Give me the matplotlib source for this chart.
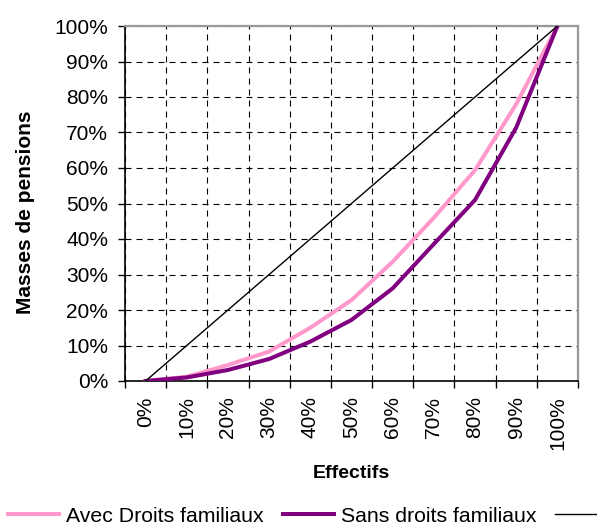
import matplotlib
matplotlib.use("Agg")
import matplotlib.pyplot as plt
from matplotlib.ticker import FixedLocator, FuncFormatter

plt.rcParams["font.family"] = ["Liberation Sans", "DejaVu Sans"]

# Cumulative shares (%) of pensions by cumulative share of retirees
effectifs = ["0%", "10%", "20%", "30%", "40%", "50%",
             "60%", "70%", "80%", "90%", "100%"]
avec_droits = [0, 1.2, 4.5, 8.3, 15.0, 22.8, 33.6, 46.0, 59.4, 78.0, 100]
sans_droits = [0, 1.0, 3.1, 6.2, 11.1, 17.2, 26.1, 38.6, 51.0, 71.4, 100]
egalite = [0, 10, 20, 30, 40, 50, 60, 70, 80, 90, 100]
y_ticks = [0, 10, 20, 30, 40, 50, 60, 70, 80, 90, 100]

PINK = "#ff99cc"
PURPLE = "#800080"
FS = 15

fig = plt.figure(figsize=(5.97, 5.24), dpi=100)
fig.patch.set_facecolor("white")
ax = fig.add_axes([125 / 597, 1 - 381 / 524, 453 / 597, 355 / 524])

x = list(range(len(effectifs)))
l1, = ax.plot(x, avec_droits, color=PINK, lw=2.9, zorder=3,
              solid_joinstyle="round")
l2, = ax.plot(x, sans_droits, color=PURPLE, lw=2.9, zorder=4,
              solid_joinstyle="round")
l3, = ax.plot(x, egalite, color="black", lw=1.0, zorder=5)

ax.set_xlim(-0.5, len(effectifs) - 0.5)
ax.set_ylim(0, 100)

# category axis: labels centred, tick marks and grid on the boundaries
ax.set_xticks(x)
ax.set_xticklabels(effectifs, rotation=90, fontsize=FS)
ax.xaxis.set_minor_locator(FixedLocator([i - 0.5 for i in range(len(effectifs) + 1)]))
ax.tick_params(axis="x", which="major", length=0, pad=11)
ax.tick_params(axis="x", which="minor", length=5, width=1, direction="out")

ax.set_yticks(y_ticks)
ax.yaxis.set_major_formatter(FuncFormatter(lambda v, _: f"{v:.0f}%"))
ax.tick_params(axis="y", length=5, width=1, direction="out", pad=7,
               labelsize=FS)

grid_style = dict(color="black", linewidth=0.8, linestyle=(0, (5.4, 4.5)))
ax.grid(False)
ax.xaxis.grid(True, which="minor", **grid_style)
ax.yaxis.grid(True, which="major", **grid_style)
ax.set_axisbelow(True)

for side in ("left", "bottom"):
    ax.spines[side].set_color("black")
    ax.spines[side].set_linewidth(1.2)
for side in ("top", "right"):
    ax.spines[side].set_color("#999999")
    ax.spines[side].set_linewidth(1.6)

ax.set_xlabel("Effectifs", fontsize=14, fontweight="bold", va="center")
ax.xaxis.set_label_coords(0.5, (381 - 474) / 355)
ax.set_ylabel("Masses de pensions", fontsize=15, fontweight="bold",
              va="center")
ax.yaxis.set_label_coords((25.5 - 125) / 453, (381 - 212) / 355)

fig.legend([l1, l2, l3], ["Avec Droits familiaux", "Sans droits familiaux", ""],
           loc="center left", bbox_to_anchor=(8 / 597, 1 - 516 / 524),
           ncol=3, frameon=False, fontsize=15.3, borderpad=0, borderaxespad=0,
           handlelength=2.4, handletextpad=0.33, columnspacing=0.9)

fig.savefig("out.png", dpi=100, facecolor="white")
